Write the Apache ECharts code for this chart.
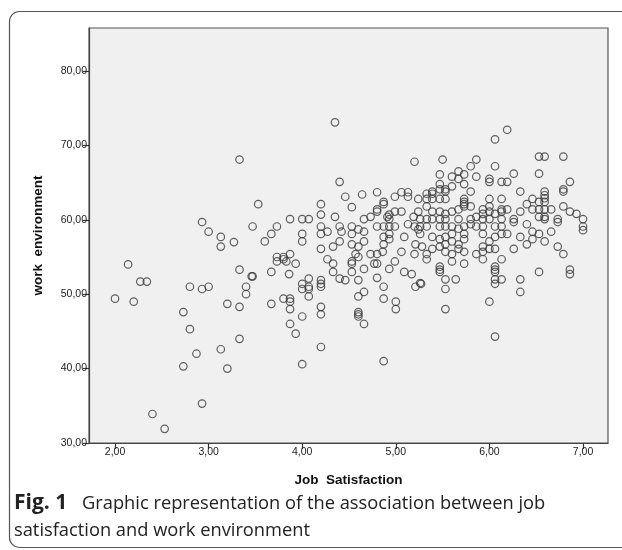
<!DOCTYPE html>
<html>
<head>
<meta charset="utf-8">
<script src="https://cdn.jsdelivr.net/npm/echarts@6/dist/echarts.min.js"></script>
<style>html,body{margin:0;padding:0;background:#fff;}#c{width:622px;height:550px;}</style>
</head>
<body>
<div id="c"></div>
<script>
const xTicks = [2, 3, 4, 5, 6, 7];
const yTicks = [30, 40, 50, 60, 70, 80];
const xTitle = 'Job  Satisfaction';
const yTitle = 'work  environment';
const captionBold = 'Fig. 1';
const captionLine1 = 'Graphic representation of the association between job';
const captionLine2 = 'satisfaction and work environment';

// [job satisfaction, work environment]
const observations = [
[2.14,54.0],[2.27,51.7],[2.34,51.7],[2.00,49.4],[2.20,49.0],[2.73,47.6],[2.80,45.3],[2.87,42.0],[2.73,40.3],[2.93,35.3],[2.40,33.9],[2.53,31.9],[2.80,51.0],[2.93,50.7],[3.00,51.0],[3.00,58.4],[3.13,57.7],[3.13,56.4],[3.27,57.0],[3.33,53.3],[3.46,52.4],[3.40,51.0],[3.40,50.0],[3.20,48.7],[3.33,48.3],[3.33,44.0],[3.13,42.6],[3.20,40.0],
[3.33,68.1],[2.93,59.7],
[4.35,73.1],[5.20,67.8],[4.40,65.1],[3.53,62.1],[4.20,62.1],[4.46,63.1],[4.64,63.4],[4.80,63.7],[5.06,63.7],[5.13,63.7],[4.99,63.1],[5.13,63.1],[5.24,62.8],[4.53,61.7],[4.20,60.7],[4.35,60.4],
[4.87,62.4],[4.87,62.1],[4.80,61.4],[4.80,61.1],[4.73,60.4],[4.66,60.1],
[4.99,61.1],[5.06,61.1],[5.24,61.1],
[4.93,60.7],[4.91,60.4],[4.93,60.1],
[3.87,60.1],[4.00,60.1],[4.07,60.1],
[3.47,59.1],[3.73,59.1],[3.67,58.1],[3.60,57.1],[4.00,58.1],[4.00,57.1],
[4.20,59.1],[4.20,58.1],[4.27,58.4],[4.40,59.1],[4.42,58.4],
[4.53,59.1],[4.60,58.7],[4.66,58.4],[4.53,58.1],
[4.80,59.1],[4.87,59.1],[4.93,59.1],[4.99,59.1],
[5.13,59.4],[5.20,59.1],[5.24,58.7],
[4.93,58.1],[4.87,57.7],[4.93,57.4],[5.09,57.7],[5.21,56.7],[4.87,56.7],[4.20,56.1],[4.33,56.4],[4.40,57.1],
[4.53,56.7],[4.60,56.4],[4.66,57.1],
[3.73,55.0],[3.80,55.0],[3.87,55.4],[3.73,54.4],[3.80,54.7],[3.83,54.4],[3.93,54.1],
[3.67,53.0],[3.86,52.7],[3.47,52.4],[4.07,52.1],[4.20,51.9],
[4.27,54.7],[4.33,54.1],[4.33,53.0],[4.40,52.1],[4.46,51.9],
[4.53,54.4],[4.53,54.1],[4.53,53.0],[4.57,55.4],[4.60,55.0],[4.66,53.4],
[4.73,55.4],[4.80,55.4],[4.86,55.7],[4.77,54.1],[4.80,54.1],[4.60,51.9],[4.80,52.2],
[4.99,54.4],[4.93,53.4],[5.06,55.7],[5.20,55.4],[5.09,53.0],[5.17,52.7],
[4.20,51.4],[4.20,51.0],[4.00,51.4],[4.07,51.0],[4.00,50.7],[4.07,50.7],[4.07,49.7],[4.87,51.0],[5.21,51.0],[4.66,50.3],[4.60,49.7],[4.87,49.4],[5.00,49.0],[5.00,48.0],[3.80,49.4],[3.87,49.4],[3.87,49.0],[3.87,48.0],[3.67,48.7],[4.20,48.3],[4.20,47.3],[4.00,47.0],[3.87,46.0],[3.93,44.7],[4.60,47.6],[4.60,47.3],[4.60,47.0],[4.66,46.0],[4.20,42.9],[4.00,40.6],[4.87,41.0],[5.26,51.5],
[6.19,72.1],[6.06,70.8],[5.50,68.1],[5.86,68.1],[6.53,68.5],[6.59,68.5],[6.79,68.5],[5.80,67.2],[6.06,67.2],[5.67,66.5],[5.73,66.1],[5.47,66.1],[5.60,65.8],[5.67,65.5],[5.73,64.8],[5.47,64.8],[5.86,65.8],[6.00,65.5],[6.00,65.1],[6.13,65.1],[6.19,65.1],[6.26,66.2],[6.53,66.2],[6.86,65.1],
[5.60,64.5],[5.53,64.1],[5.53,63.8],
[5.47,64.1],[5.39,63.8],[5.39,63.5],[5.33,63.5],[5.33,62.8],[5.39,62.8],[5.47,62.8],[5.53,62.8],
[5.80,63.8],[5.73,62.8],[5.73,62.4],[5.73,62.1],[5.73,61.8],[6.00,62.8],[6.13,62.8],[6.33,63.8],
[6.59,63.8],[6.59,63.3],[6.59,62.9],[6.59,62.4],[6.79,64.1],[6.79,63.8],
[6.46,62.8],[6.53,62.4],[6.40,62.1],
[6.79,61.8],[6.86,61.1],[6.93,60.8],[7.00,60.1],[7.00,59.1],[6.73,60.1],[6.73,59.7],
[6.46,61.4],[6.53,61.4],[6.59,61.4],[6.66,61.4],[6.59,60.4],[6.53,60.4],[6.59,60.1],
[6.33,61.1],
[6.19,61.4],[6.13,61.4],[6.13,61.1],[6.06,60.8],[6.00,61.1],[6.00,61.8],[5.93,61.4],[5.93,60.8],[5.86,60.4],
[5.80,61.8],[5.67,61.4],[5.60,61.1],[5.53,60.8],[5.47,61.1],[5.39,61.1],[5.33,61.8],[5.19,60.4],
[5.26,60.1],[5.33,60.1],[5.39,60.1],[5.47,60.1],[5.53,60.1],[5.67,60.1],[5.80,60.1],[5.93,60.1],[6.00,60.1],[6.13,60.1],[6.26,60.1],
[5.26,59.1],[5.33,59.1],[5.47,59.1],[5.53,59.1],[5.60,59.1],[5.73,59.1],[5.86,59.1],[5.93,59.1],[6.06,59.1],[6.13,59.1],[5.80,59.4],[5.67,58.8],
[5.26,58.1],[5.39,57.7],[5.93,58.1],[6.40,59.4],[6.26,59.7],
[5.28,56.4],[5.33,55.4],[5.33,54.7],[5.39,56.1],[5.47,56.4],[5.47,57.4],[5.53,57.7],[5.60,58.1],[5.53,56.7],[5.60,57.1],[5.67,56.7],[5.67,56.1],[5.73,55.7],[5.73,57.4],[5.73,58.1],[5.60,55.4],[5.60,54.4],[5.73,54.1],[5.53,55.7],
[5.47,53.7],[5.47,53.3],[5.47,53.0],[5.53,52.0],[5.64,52.0],[5.53,50.7],[5.53,48.0],
[5.27,51.4],
[5.86,55.4],[5.93,55.7],[5.93,54.7],[5.93,56.4],[6.00,57.1],[6.06,57.7],[6.06,56.1],[6.00,56.1],
[6.06,53.7],[6.06,53.3],[6.06,53.0],[6.06,52.0],[6.06,51.4],[6.13,52.0],[6.13,54.7],[6.00,49.0],[6.06,44.3],
[6.26,56.1],[6.33,57.7],[6.40,56.7],[6.46,57.4],[6.46,58.4],[6.53,58.1],[6.59,57.1],[6.66,58.4],
[6.13,58.1],[6.19,58.1],
[6.73,56.4],[6.79,55.4],[6.86,53.3],[6.86,52.7],[6.53,53.0],[6.33,52.0],[6.33,50.3],[7.00,58.6]
];

const fmt = v => v.toFixed(2).replace('.', ',');
const chart = echarts.init(document.getElementById('c'), null, {renderer: 'canvas'});
chart.setOption({
  animation: false,
  backgroundColor: '#ffffff',
  grid: {left: 89, top: 28, right: 14, bottom: 107, show: true, backgroundColor: '#f0f0f0', borderColor: '#555', borderWidth: 1.2},
  xAxis: {
    type: 'value', min: 1.722, max: 7.267,
    name: xTitle, nameLocation: 'middle', nameGap: 30,
    nameTextStyle: {fontFamily: 'Liberation Sans', fontWeight: 'bold', fontSize: 13.5, color: '#111'},
    axisLine: {show: true, onZero: false, lineStyle: {color: '#444', width: 1.2}},
    axisTick: {show: true, customValues: xTicks, length: 6, lineStyle: {color: '#333', width: 1.2}},
    axisLabel: {customValues: xTicks, formatter: fmt, fontFamily: 'Liberation Sans', fontSize: 10.5, color: '#222', margin: 4},
    splitLine: {show: false}
  },
  yAxis: {
    type: 'value', min: 30, max: 85.78,
    name: yTitle, nameLocation: 'middle', nameGap: 44, nameRotate: 90,
    nameTextStyle: {fontFamily: 'Liberation Sans', fontWeight: 'bold', fontSize: 13.5, color: '#111'},
    axisLine: {show: true, onZero: false, lineStyle: {color: '#444', width: 1.2}},
    axisTick: {show: true, customValues: yTicks, length: 6, lineStyle: {color: '#333', width: 1.2}},
    axisLabel: {customValues: yTicks, formatter: fmt, fontFamily: 'Liberation Sans', fontSize: 10.5, color: '#222', margin: 2},
    splitLine: {show: false}
  },
  graphic: [
    {type: 'rect', shape: {x: 9.5, y: 11.5, width: 640, height: 536, r: 10}, style: {fill: 'none', stroke: '#555', lineWidth: 1.2}, z: -1},
    {type: 'text', left: 14, top: 493, style: {text: captionBold, font: 'bold 21px "Open Sans"', fill: '#222'}},
    {type: 'text', left: 82, top: 495, style: {text: captionLine1, font: '18.3px "Open Sans"', fill: '#222'}},
    {type: 'text', left: 14, top: 522, style: {text: captionLine2, font: '18.3px "Open Sans"', fill: '#222'}}
  ],
  series: [{
    type: 'scatter',
    data: observations,
    symbol: 'circle',
    symbolSize: 7.5,
    itemStyle: {color: 'rgba(0,0,0,0)', borderColor: '#3a3a3a', borderWidth: 1.2}
  }]
});
</script>
</body>
</html>
